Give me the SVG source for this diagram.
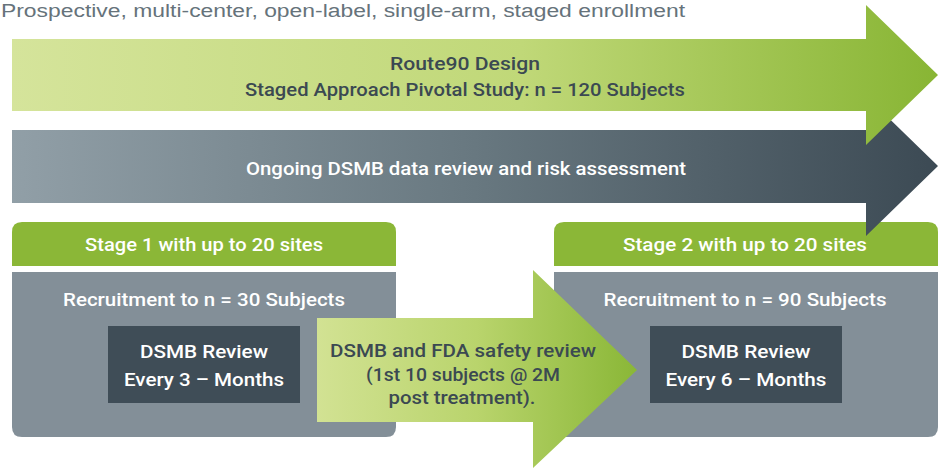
<svg xmlns="http://www.w3.org/2000/svg" width="942" height="468" viewBox="0 0 942 468">
<defs>
<linearGradient id="gGreen" x1="0" y1="0" x2="1" y2="0">
<stop offset="0" stop-color="#d5e49b"/>
<stop offset="0.55" stop-color="#c0d878"/>
<stop offset="1" stop-color="#88b534"/>
</linearGradient>
<linearGradient id="gDark" x1="0" y1="0" x2="1" y2="0">
<stop offset="0" stop-color="#919fa7"/>
<stop offset="0.5" stop-color="#687880"/>
<stop offset="1" stop-color="#3c4a54"/>
</linearGradient>
<linearGradient id="gMid" x1="0" y1="0" x2="1" y2="0">
<stop offset="0" stop-color="#d2e293"/>
<stop offset="0.5" stop-color="#b9d46c"/>
<stop offset="1" stop-color="#8ab737"/>
</linearGradient>
<style>
.t{font-family:Roboto,"Liberation Sans",sans-serif;font-weight:500;text-anchor:middle}
.w{fill:#ffffff}
.d{fill:#3b4952}
.hdr{fill:#8bb737}
.body{fill:#838f98}
.box{fill:#3f4d57}
.sub{font-family:"Liberation Sans",Arial,sans-serif;font-size:18px;fill:#66737b}
</style>
</defs>
<rect width="942" height="468" fill="#ffffff"/>
<text class="sub" x="1" y="17" textLength="684" lengthAdjust="spacingAndGlyphs">Prospective, multi-center, open-label, single-arm, staged enrollment</text>

<g id="stage1">
<path class="hdr" d="M12,232 Q12,222 22,222 H386 Q396,222 396,232 V266 H12 Z"/>
<path class="body" d="M12,272 H396 V427 Q396,437 386,437 H22 Q12,437 12,427 Z"/>
<text class="t w" x="204" y="251" font-size="19" textLength="238" lengthAdjust="spacingAndGlyphs">Stage 1 with up to 20 sites</text>
<text class="t w" x="204" y="306" font-size="19" textLength="282" lengthAdjust="spacingAndGlyphs">Recruitment to n = 30 Subjects</text>
</g>
<g id="dsmb1">
<rect class="box" x="108" y="326" width="192" height="77"/>
<text class="t w" x="204" y="358" font-size="19" textLength="128" lengthAdjust="spacingAndGlyphs">DSMB Review</text>
<text class="t w" x="204" y="386" font-size="19" textLength="160" lengthAdjust="spacingAndGlyphs">Every 3 – Months</text>
</g>

<g id="stage2">
<path class="hdr" d="M554,232 Q554,222 564,222 H928 Q938,222 938,232 V266 H554 Z"/>
<path class="body" d="M554,272 H938 V427 Q938,437 928,437 H564 Q554,437 554,427 Z"/>
<text class="t w" x="745" y="251" font-size="19" textLength="244" lengthAdjust="spacingAndGlyphs">Stage 2 with up to 20 sites</text>
<text class="t w" x="745" y="306" font-size="19" textLength="283" lengthAdjust="spacingAndGlyphs">Recruitment to n = 90 Subjects</text>
</g>
<g id="dsmb2">
<rect class="box" x="650" y="326" width="192" height="77"/>
<text class="t w" x="746" y="358" font-size="19" textLength="129" lengthAdjust="spacingAndGlyphs">DSMB Review</text>
<text class="t w" x="746" y="386" font-size="19" textLength="161" lengthAdjust="spacingAndGlyphs">Every 6 – Months</text>
</g>

<g id="dsmbArrow">
<path fill="url(#gDark)" d="M12,130 H866 V96 L938,166 L866,236 V203 H12 Z"/>
<text class="t w" x="466" y="175" font-size="19" textLength="440" lengthAdjust="spacingAndGlyphs">Ongoing DSMB data review and risk assessment</text>
</g>

<g id="designArrow">
<path fill="url(#gGreen)" d="M12,39 H866 V5 L938,75 L866,145 V111 H12 Z"/>
<text class="t d" x="465" y="70" font-size="19" textLength="150" lengthAdjust="spacingAndGlyphs">Route90 Design</text>
<text class="t d" x="465" y="96" font-size="19" textLength="440" lengthAdjust="spacingAndGlyphs">Staged Approach Pivotal Study: n = 120 Subjects</text>
</g>

<g id="safetyReview">
<path fill="url(#gMid)" d="M317,318 H533 V270 L637,370 L533,468 V422 H317 Z"/>
<text class="t d" x="463" y="357" font-size="19" textLength="266" lengthAdjust="spacingAndGlyphs">DSMB and FDA safety review</text>
<text class="t d" x="463" y="381" font-size="19" textLength="194" lengthAdjust="spacingAndGlyphs">(1st 10 subjects @ 2M</text>
<text class="t d" x="462" y="404" font-size="19" textLength="147" lengthAdjust="spacingAndGlyphs">post treatment).</text>
</g>

<g id="connectors"></g>
</svg>
